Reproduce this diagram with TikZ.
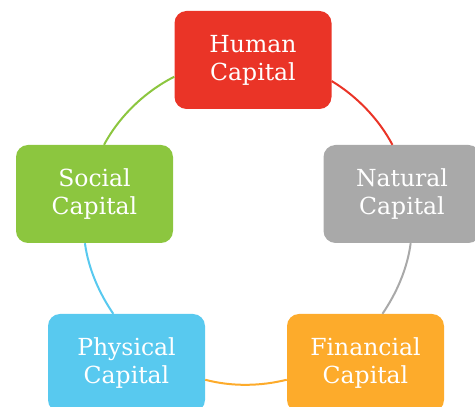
\documentclass[tikz,border=0pt]{standalone}
\usepackage{fontspec}
\setmainfont{DejaVu Serif}
\definecolor{hred}{HTML}{EA3427}
\definecolor{ngray}{HTML}{A9A9A9}
\definecolor{forange}{HTML}{FDAB2B}
\definecolor{pblue}{HTML}{58C9EF}
\definecolor{sgreen}{HTML}{8CC63F}
\tikzset{
  capbox/.style={rectangle, rounded corners=12pt, minimum width=157pt, minimum height=98pt, inner sep=0pt, align=center, text=white, font=\fontsize{23.5}{28}\selectfont},
  link/.style={line width=2pt, looseness=0.85}
}
\begin{document}
\begin{tikzpicture}[x=1pt,y=1pt]
\useasboundingbox (0,0) rectangle (475,407);
\clip (0,0) rectangle (475,407);
\node[capbox, fill=hred]    (human)     at (253,347)   {Human\\Capital};
\node[capbox, fill=ngray]   (natural)   at (402,213)   {Natural\\Capital};
\node[capbox, fill=forange] (financial) at (365.5,44)  {Financial\\Capital};
\node[capbox, fill=pblue]   (physical)  at (126.5,44)  {Physical\\Capital};
\node[capbox, fill=sgreen]  (social)    at (94.5,213)  {Social\\Capital};
\draw[link, hred]    (human.-15.6)     to[out=-31,in=117.9]   (natural.101.5);
\draw[link, ngray]   (natural.-80.7)   to[out=-97.5,in=55.5]  (financial.71.4);
\draw[link, forange] (financial.192.6) to[out=-165.9,in=-15]  (physical.-12.2);
\draw[link, pblue]   (physical.105.4)  to[out=124.5,in=277.6] (social.259.6);
\draw[link, sgreen]  (social.79)       to[out=62,in=206.8]    (human.192.2);
\end{tikzpicture}
\end{document}
